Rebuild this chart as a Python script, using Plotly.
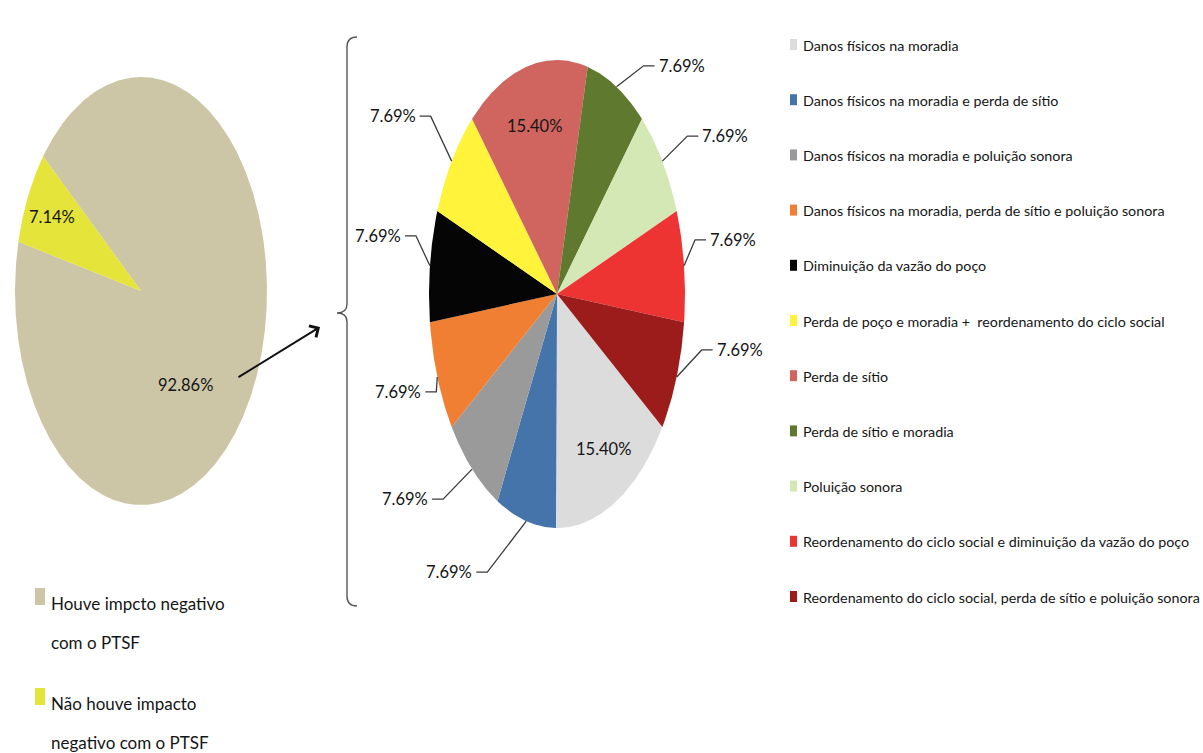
import numpy as np
import plotly.graph_objects as go

# ---- data ----
impact_labels = [["Houve impcto negativo", "com o PTSF"], ["Não houve impacto", "negativo com o PTSF"]]
impact_values = [92.86, 7.14]
impact_colors = ["#CCC6A6", "#E4E43A"]

effect_labels = [
    "Danos físicos na moradia",
    "Danos físicos na moradia e perda de sítio",
    "Danos físicos na moradia e poluição sonora",
    "Danos físicos na moradia, perda de sítio e poluição sonora",
    "Diminuição da vazão do poço",
    "Perda de poço e moradia +  reordenamento do ciclo social",
    "Perda de sítio",
    "Perda de sítio e moradia",
    "Poluição sonora",
    "Reordenamento do ciclo social e diminuição da vazão do poço",
    "Reordenamento do ciclo social, perda de sítio e poluição sonora",
]
effect_values = [15.40, 7.69, 7.69, 7.69, 7.69, 7.69, 15.40, 7.69, 7.69, 7.69, 7.69]
effect_colors = ["#DCDCDC", "#4474A9", "#9A9A9A", "#F07F33", "#050505", "#FFF33C",
                 "#D0645F", "#5F7A2E", "#D3E8B5", "#EE3433", "#9C1C1C"]

# ---- layout constants ----
W, H = 1203, 753
FONT = "Lato, Roboto, 'Liberation Sans', sans-serif"
TEXT = "#151515"

# ellipse geometry: centre, radii, start angle (deg, counter-clockwise from +x)
LEFT = dict(cx=141, cy=291, rx=126, ry=214, start=141)
RIGHT = dict(cx=557, cy=294, rx=128, ry=234, start=-34.6)

# per-slice label placement: ("in", fx, fy) inside, or ("out", dx, dy) leader offset
left_label_pos = [("in", 0.39, 1.0), ("in", 0.79, 0.79)]
right_label_pos = [("in", 0.78, 0.75), ("out", -50, 51), ("out", -40, 30), ("out", -12, 15),
                   ("out", -25, -30), ("out", -32, -45), ("in", 0.72, 0.74), ("out", 38, -21),
                   ("out", 36, -25), ("out", 22, -26), ("out", 36, -27)]


def wedges(values, cx, cy, rx, ry, start):
    total = float(sum(values))
    a0 = start
    out = []
    for v in values:
        sweep = 360.0 * v / total
        a1 = a0 - sweep
        t = np.radians(np.linspace(a0, a1, max(12, int(sweep * 3))))
        xs = np.concatenate([[cx], cx + rx * np.cos(t), [cx]])
        ys = np.concatenate([[cy], cy - ry * np.sin(t), [cy]])
        out.append((xs, ys, np.radians((a0 + a1) / 2)))
        a0 = a1
    return out


fig = go.Figure()
annotations = []


def draw_pie(values, colors, geo, label_pos, fsize):
    cx, cy, rx, ry = geo["cx"], geo["cy"], geo["rx"], geo["ry"]
    for (xs, ys, mid), v, col, pos in zip(wedges(values, cx, cy, rx, ry, geo["start"]),
                                          values, colors, label_pos):
        fig.add_trace(go.Scatter(x=xs, y=ys, mode="lines", fill="toself", fillcolor=col,
                                 line=dict(width=0, color=col), hoverinfo="skip",
                                 showlegend=False))
        txt = f"{v:.2f}%"
        if pos[0] == "in":
            lx = cx + rx * np.cos(mid) * pos[1]
            ly = cy - ry * np.sin(mid) * pos[2]
            annotations.append(dict(x=lx, y=ly, text=txt, showarrow=False,
                                    font=dict(family=FONT, size=fsize, color=TEXT)))
        else:
            ex = cx + rx * np.cos(mid)
            ey = cy - ry * np.sin(mid)
            ax, ay = ex + pos[1], ey + pos[2]
            side = 1 if pos[1] > 0 else -1
            fig.add_trace(go.Scatter(x=[ex, ax - side * 11, ax], y=[ey, ay, ay], mode="lines",
                                     line=dict(color="#3a3a3a", width=1.3), hoverinfo="skip",
                                     showlegend=False))
            annotations.append(dict(x=ax + side * 2, y=ay, text=txt, showarrow=False,
                                    xanchor="left" if side > 0 else "right",
                                    font=dict(family=FONT, size=fsize, color=TEXT)))


draw_pie(impact_values, impact_colors, LEFT, left_label_pos, 16.5)
draw_pie(effect_values, effect_colors, RIGHT, right_label_pos, 16.5)

shapes = []

# legend for the right pie
for i, (lab, col) in enumerate(zip(effect_labels, effect_colors)):
    y = 45 + i * 55.2
    shapes.append(dict(type="rect", xref="x", yref="y", x0=790, x1=797, y0=y - 6, y1=y + 5,
                       fillcolor=col, line=dict(width=0)))
    annotations.append(dict(x=801, y=y, text=lab, showarrow=False, xanchor="left",
                            font=dict(family=FONT, size=14.3, color=TEXT)))

# legend for the left pie (two lines per entry, wide line spacing)
for i, (lines, col) in enumerate(zip(impact_labels, impact_colors)):
    y = 603 + i * 100
    shapes.append(dict(type="rect", xref="x", yref="y", x0=35, x1=45, y0=y - 15, y1=y + 2,
                       fillcolor=col, line=dict(width=0)))
    for j, line in enumerate(lines):
        annotations.append(dict(x=49, y=y + j * 39, text=line, showarrow=False, xanchor="left",
                                font=dict(family=FONT, size=17, color=TEXT)))

# brace grouping the breakdown
shapes.append(dict(type="path", xref="x", yref="y",
                   path="M 357,37 Q 347,37 347,47 L 347,304 Q 347,313 337,313 "
                        "Q 347,313 347,322 L 347,596 Q 347,606 357,606",
                   line=dict(color="#555555", width=1.4)))

# arrow from the negative-impact slice to the breakdown
annotations.append(dict(x=320, y=327, ax=237, ay=378, xref="x", yref="y", axref="x", ayref="y",
                        showarrow=True, arrowhead=4, arrowsize=1.3, arrowwidth=2,
                        arrowcolor="#111111", text=""))

fig.update_layout(
    width=W, height=H, autosize=False,
    margin=dict(l=0, r=0, t=0, b=0),
    paper_bgcolor="white", plot_bgcolor="white",
    xaxis=dict(range=[0, W], visible=False, fixedrange=True),
    yaxis=dict(range=[H, 0], visible=False, fixedrange=True),
    shapes=shapes, annotations=annotations, showlegend=False,
)

fig.write_html("out.html")
